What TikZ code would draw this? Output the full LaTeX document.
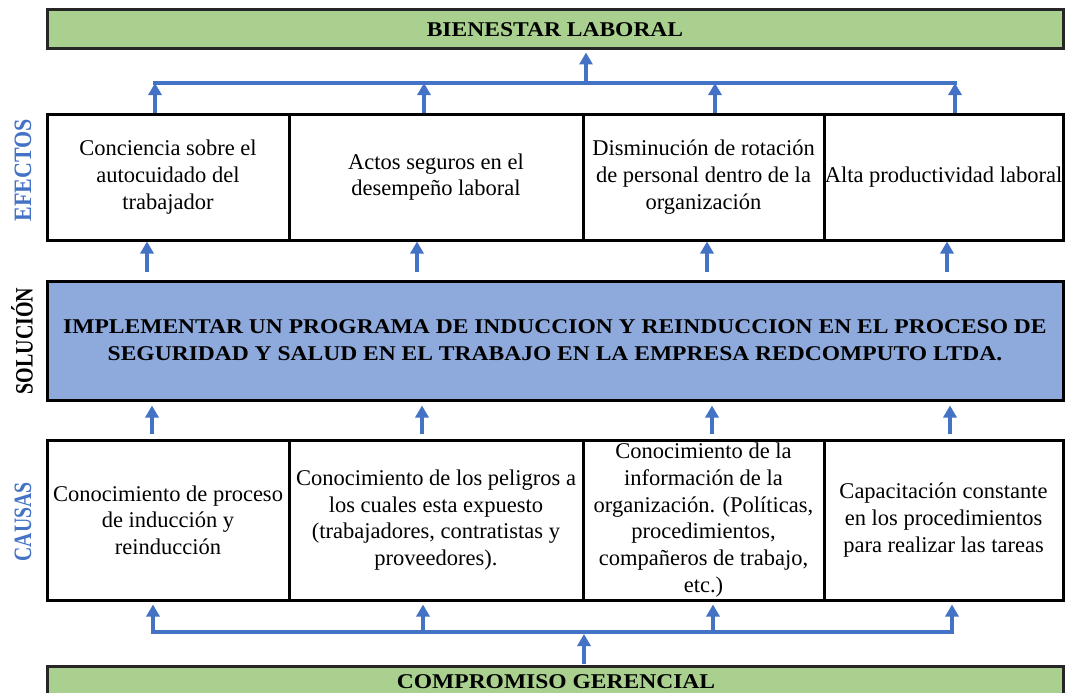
\documentclass[tikz,border=0pt]{standalone}
\usepackage{fontspec}
\usepackage{graphicx}
\setmainfont{Liberation Serif}
\usetikzlibrary{arrows.meta}
\definecolor{gbox}{HTML}{A9D08E}
\definecolor{sbox}{HTML}{8EA9DB}
\definecolor{ablue}{HTML}{4472C4}
\definecolor{lblue}{HTML}{4472C4}
\begin{document}
\begin{tikzpicture}[x=1pt,y=-1pt,
  cell/.style={draw=black, line width=3pt, fill=white, inner sep=0pt, align=center, font=\fontsize{22.5}{26.7}\selectfont},
  band/.style={draw=black!85, line width=3pt, fill=gbox, inner sep=0pt, minimum width=1016pt, font=\bfseries\fontsize{21}{27}\selectfont},
  bandtext/.style={inner sep=0pt, anchor=base, font=\bfseries\fontsize{21}{27}\selectfont},
  bus/.style={draw=ablue, line width=4pt},
  arr/.style={draw=ablue, line width=4pt, -{Triangle[width=13pt,length=12pt]}},
  side/.style={rotate=90, inner sep=0pt, font=\bfseries\fontsize{25}{25}\selectfont},
]
\fill[white] (0,0) rectangle (1065,693);
\useasboundingbox (0,0) rectangle (1065,693);

% bands
\node[band, minimum height=39pt] (top) at (555,29.5) {\scalebox{1.12}[1]{BIENESTAR LABORAL}};
\node[band, minimum height=36pt] (bot) at (555,684) {};
\node[bandtext] (botlabel) at (556,688) {\scalebox{1.12}[1]{COMPROMISO GERENCIAL}};

% effects
\node[cell, minimum width=242pt, minimum height=126pt] (e1) at (168,177) {Conciencia sobre el\\autocuidado del\\trabajador};
\node[cell, minimum width=294pt, minimum height=126pt] (e2) at (436,177) {Actos seguros en el\\desempeño laboral};
\node[cell, minimum width=241pt, minimum height=126pt] (e3) at (703.5,177) {Disminución de rotación\\de personal dentro de la\\organización};
\node[cell, minimum width=239pt, minimum height=126pt] (e4) at (943.5,177) {Alta productividad laboral};

% solution
\node[draw=black, line width=3pt, fill=sbox, inner sep=0pt, align=center, minimum width=1016pt, minimum height=119pt,
      font=\bfseries\fontsize{21}{27}\selectfont] (sol) at (555,340.5)
  {\scalebox{1.12}[1]{IMPLEMENTAR UN PROGRAMA DE INDUCCION Y REINDUCCION EN EL PROCESO DE}\\
   \scalebox{1.12}[1]{SEGURIDAD Y SALUD EN EL TRABAJO EN LA EMPRESA REDCOMPUTO LTDA.}};

% causes
\node[cell, minimum width=242pt, minimum height=160pt] (c1) at (168,520) {Conocimiento de proceso\\de inducción y\\reinducción};
\node[cell, minimum width=294pt, minimum height=160pt] (c2) at (436,520) {Conocimiento de los peligros a\\los cuales esta expuesto\\(trabajadores, contratistas y\\proveedores).};
\node[cell, minimum width=241pt, minimum height=160pt] (c3) at (703.5,520) {Conocimiento de la\\información de la\\organización. (Políticas,\\procedimientos,\\compañeros de trabajo,\\etc.)};
\node[cell, minimum width=239pt, minimum height=160pt] (c4) at (943.5,520) {Capacitación constante\\en los procedimientos\\para realizar las tareas};

% side labels
\node[side, text=lblue] (lef) at (23,170) {\scalebox{0.88}[1]{EFECTOS}};
\node[side, text=black] (lso) at (22,341) {\scalebox{0.8}[1]{SOLUCIÓN}};
\node[side, text=lblue] (lca) at (23,522) {\scalebox{0.79}[1]{CAUSAS}};

% top bus
\coordinate (b1) at (155,83);
\coordinate (b2) at (424,83);
\coordinate (b3) at (715,83);
\coordinate (b4) at (955,83);
\coordinate (b0) at (586,83);
\draw[bus] ([xshift=-2pt]b1) -- ([xshift=2pt]b4);
\draw[arr] (e1.north -| b1) -- (b1);
\draw[arr] (e2.north -| b2) -- (b2);
\draw[arr] (e3.north -| b3) -- (b3);
\draw[arr] (e4.north -| b4) -- (b4);
\draw[arr, shorten >=2pt] (b0) -- (top.south -| b0);

% solution -> effects
\coordinate (m1) at (147,260);
\coordinate (m2) at (417,260);
\coordinate (m3) at (707,260);
\coordinate (m4) at (947,260);
\draw[arr, shorten <=8pt] (sol.north -| m1) -- (e1.south -| m1);
\draw[arr, shorten <=8pt] (sol.north -| m2) -- (e2.south -| m2);
\draw[arr, shorten <=8pt] (sol.north -| m3) -- (e3.south -| m3);
\draw[arr, shorten <=8pt] (sol.north -| m4) -- (e4.south -| m4);

% causes -> solution
\coordinate (n1) at (152,420);
\coordinate (n2) at (422,420);
\coordinate (n3) at (712,420);
\coordinate (n4) at (950,420);
\draw[arr, shorten <=5pt, shorten >=4pt] (c1.north -| n1) -- (sol.south -| n1);
\draw[arr, shorten <=5pt, shorten >=4pt] (c2.north -| n2) -- (sol.south -| n2);
\draw[arr, shorten <=5pt, shorten >=4pt] (c3.north -| n3) -- (sol.south -| n3);
\draw[arr, shorten <=5pt, shorten >=4pt] (c4.north -| n4) -- (sol.south -| n4);

% bottom bus
\coordinate (d1) at (153,632);
\coordinate (d2) at (423,632);
\coordinate (d3) at (713,632);
\coordinate (d4) at (952,632);
\coordinate (d0) at (584,632);
\draw[bus] ([xshift=-2pt]d1) -- ([xshift=2pt]d4);
\draw[arr, shorten >=3pt] (d1) -- (c1.south -| d1);
\draw[arr, shorten >=3pt] (d2) -- (c2.south -| d2);
\draw[arr, shorten >=3pt] (d3) -- (c3.south -| d3);
\draw[arr, shorten >=3pt] (d4) -- (c4.south -| d4);
\draw[arr, shorten <=1pt, shorten >=2pt] (bot.north -| d0) -- (d0);
\end{tikzpicture}
\end{document}
